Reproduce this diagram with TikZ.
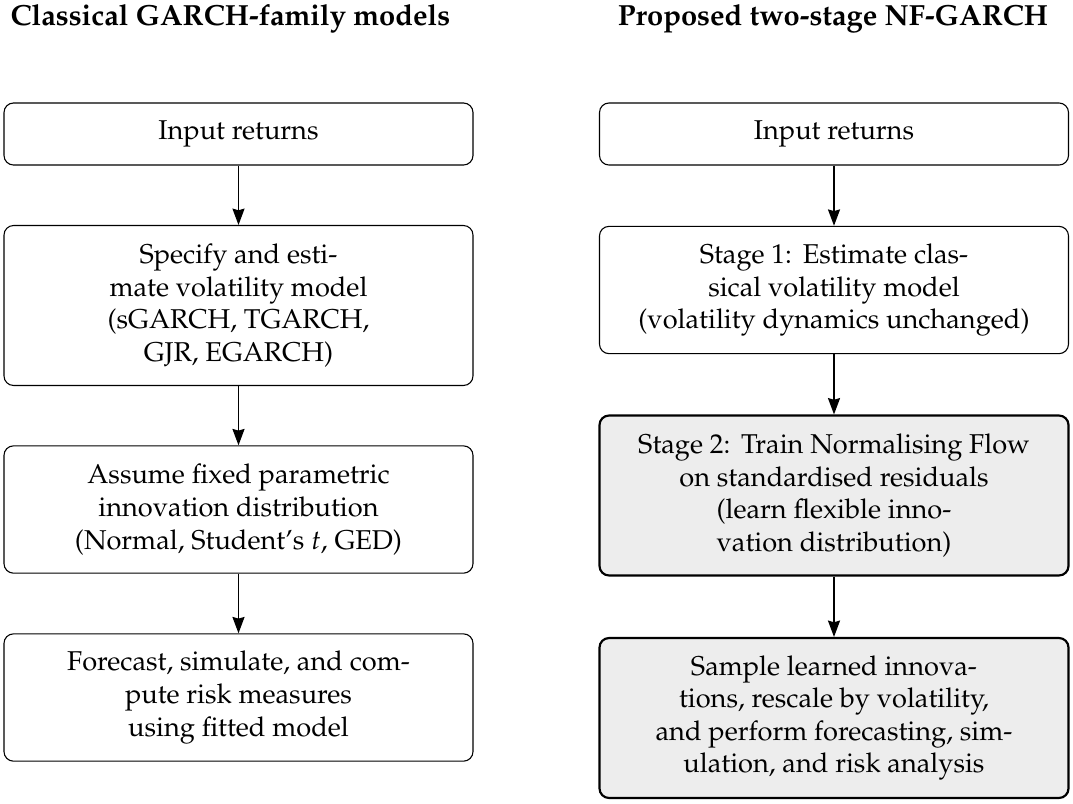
\documentclass[tikz,border=0pt]{standalone}
\usepackage[T1]{fontenc}
\usepackage{mathpazo}
\usepackage{tikz}
\usetikzlibrary{calc}
\usetikzlibrary{arrows.meta}

\tikzset{
	stagebox/.style={draw, rounded corners=3.5pt, align=center, minimum width=172.4pt, inner sep=0pt, line width=0.4pt},
	nfbox/.style={stagebox, fill=black!7, line width=0.8pt},
	flow/.style={-{Stealth[length=6pt,width=4.4pt,inset=0.6pt]}, line width=0.7pt},
	coltitle/.style={font=\fontsize{10.7}{13}\selectfont\bfseries, anchor=base, inner sep=0pt},
}

\begin{document}
\begin{tikzpicture}[x=0.3676pt, y=-0.3676pt]
			\useasboundingbox (0,0) rectangle (1073,803);

			% column titles
			\node[coltitle] (ttlL) at (230.5,25) {Classical GARCH-family models};
			\node[coltitle] (ttlR) at (833,25) {Proposed two-stage NF-GARCH};

			% classical pipeline
			\node[stagebox, minimum height=22.8pt] (in1) at (238.5,134) {Input returns};
			\node[stagebox, minimum height=58.8pt] (spec) at ($(in1)+(0,171.5)$) {Specify and esti-\\mate volatility model\\(sGARCH, TGARCH,\\GJR, EGARCH)};
			\node[stagebox, minimum height=46.8pt] (assume) at ($(spec)+(0,204)$) {Assume fixed parametric\\innovation distribution\\(Normal, Student's $t$, GED)};
			\node[stagebox, minimum height=46.8pt] (fcast) at ($(assume)+(0,188)$) {Forecast, simulate, and com-\\pute risk measures\\using fitted model};

			% NF-GARCH pipeline
			\node[stagebox, minimum height=22.8pt] (in2) at ($(in1)+(595.5,0)$) {Input returns};
			\node[stagebox, minimum height=46.8pt] (stage1) at ($(in2)+(0,156)$) {Stage 1:\hspace{0.4em}Estimate clas-\\sical volatility model\\(volatility dynamics unchanged)};
			\node[nfbox, minimum height=58.8pt] (stage2) at ($(stage1)+(0,205.5)$) {Stage 2:\hspace{0.4em}Train Normalising Flow\\on standardised residuals\\(learn flexible inno-\\vation distribution)};
			\node[nfbox, minimum height=58.8pt] (sample) at ($(stage2)+(0,222.5)$) {Sample learned innova-\\tions, rescale by volatility,\\and perform forecasting, sim-\\ulation, and risk analysis};

			\draw[flow] (in1) -- (spec);
			\draw[flow] (spec) -- (assume);
			\draw[flow] (assume) -- (fcast);

			\draw[flow] (in2) -- (stage1);
			\draw[flow] (stage1) -- (stage2);
			\draw[flow] (stage2) -- (sample);

		\end{tikzpicture}
\end{document}
